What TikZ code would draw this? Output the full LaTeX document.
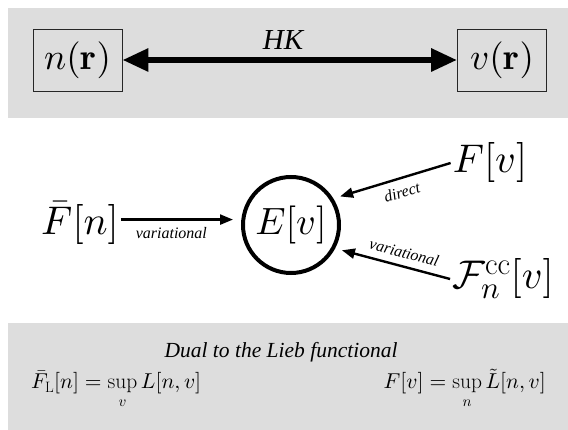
\documentclass[tikz,border=0pt]{standalone}
\usepackage{fontspec}
\newfontfamily\tms{Liberation Serif}
\usetikzlibrary{arrows.meta}
\DeclareFontShape{OML}{cmm}{m}{it}{<-6>cmmi5<6-8>cmmi7<8->cmmi10}{\skewchar\font=127 }
\DeclareFontShape{OMS}{cmsy}{m}{n}{<-6>cmsy5<6-8>cmsy7<8->cmsy10}{\skewchar\font=48 }
\DeclareFontShape{OMX}{cmex}{m}{n}{<->cmex10}{}
\DeclareFontShape{OT1}{cmr}{m}{n}{<-6>cmr5<6-8>cmr7<8->cmr10}{}
\DeclareFontShape{OT1}{cmr}{bx}{n}{<-6>cmbx5<6-8>cmbx7<8->cmbx10}{}
\DeclareMathSizes{40}{40}{31}{22}
\definecolor{panel}{RGB}{221,221,221}
\begin{document}
\begin{tikzpicture}[x=1pt,y=-1pt,
  boxnode/.style={draw=black!85, line width=0.9pt, minimum width=89pt, minimum height=62pt, inner sep=0pt, font=\fontsize{37}{40}\selectfont},
  bigmath/.style={inner sep=2pt, font=\fontsize{40}{44}\selectfont},
  lbl/.style={font=\tms\itshape\fontsize{16}{18}\selectfont, inner sep=2pt},
  thinarrow/.style={line width=2.4pt, -{Triangle[length=13pt,width=10pt]}},
  hkarrow/.style={line width=6pt, {Triangle[length=26pt,width=22pt]}-{Triangle[length=26pt,width=22pt]}},
  formula/.style={inner sep=0pt, font=\fontsize{21.5}{24}\selectfont},
]
\useasboundingbox (0,0) rectangle (568,430);
\fill[white] (0,0) rectangle (568,430);
\fill[panel] (8,8) rectangle (568,118);
\fill[panel] (8,323) rectangle (568,430);

% top panel
\node[boxnode] (n) at (77.5,60) {$n(\mathbf{r})$};
\node[boxnode] (v) at (502,60) {$v(\mathbf{r})$};
\draw[hkarrow] (n) -- (v)
  node[pos=0.48, anchor=base, yshift=10pt, inner sep=0pt, font=\tms\itshape\fontsize{29}{32}\selectfont] (hk) {HK};

% middle
\node[circle, draw, line width=4pt, minimum size=96pt, inner sep=0pt, font=\fontsize{38}{40}\selectfont] (E) at (291,225) {$E[v]$};
\node[bigmath, anchor=base] (Fb) at (80,235) {$\bar F[n]$};
\node[bigmath, anchor=base] (Fv) at (490,173) {$F[v]$};
\node[bigmath, anchor=base] (Fc) at (503,289) {$\mathcal{F}_n^{\mathrm{cc}}[v]$};

\coordinate (a1) at ([yshift=4pt]Fb.east);
\draw[thinarrow, shorten >=8pt] (a1) -- (a1 -| E.west)
  node[pos=0.42, below=5pt, lbl] (l1) {variational};
\draw[thinarrow, shorten >=7pt] (Fv.west) -- (E.32)
  node[pos=0.45, below=5pt, sloped, lbl] (l2) {direct};
\draw[thinarrow, shorten >=7pt] (Fc.west) -- (E.-28)
  node[pos=0.43, above=5pt, sloped, lbl] (l3) {variational};

% bottom panel
\node[font=\tms\itshape\fontsize{21.5}{24}\selectfont, anchor=base, inner sep=0pt] (dual) at (281,358) {Dual to the Lieb functional};
\node[formula, anchor=base west] (fl) at (31,389) {$\displaystyle \bar F_{\mathrm{L}}[n] = \sup_v L[n,v]$};
\node[formula, anchor=base east] (fr) at (546,389) {$\displaystyle F[v] = \sup_n \tilde L[n,v]$};
\end{tikzpicture}
\end{document}
